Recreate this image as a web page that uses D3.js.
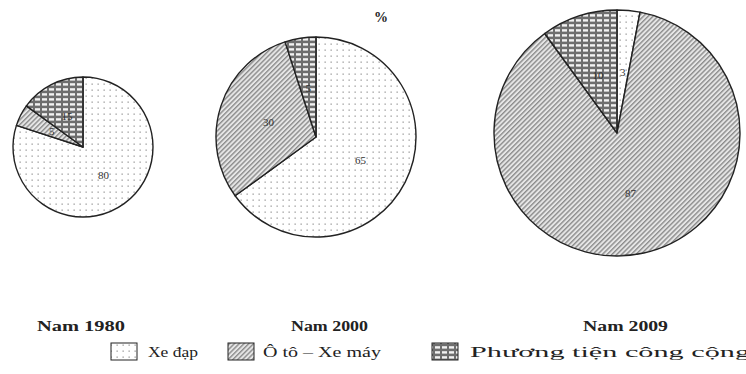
<!DOCTYPE html>
<html>
<head>
<meta charset="utf-8">
<script src="https://cdn.jsdelivr.net/npm/d3@7"></script>
<style>
  html, body { margin: 0; padding: 0; background: #fff; overflow: hidden; }
  svg { display: block; font-family: "Liberation Serif", "DejaVu Serif", serif; }
</style>
</head>
<body>
<svg id="chart" width="746" height="374"></svg>
<script>
// Cơ cấu phương tiện giao thông (%)
const categories = ["Xe đạp", "Ô tô – Xe máy", "Phương tiện công cộng"];
const years = ["Nam 1980", "Nam 2000", "Nam 2009"];
const values1980 = [80, 5, 15];
const values2000 = [65, 30, 5];
const values2009 = [3, 87, 10];
const unitLabel = "%";

const series = [values1980, values2000, values2009];
const layout = [
  { cx: 83,  cy: 147, r: 70 },
  { cx: 316, cy: 137, r: 100 },
  { cx: 617, cy: 133, r: 123 }
];
// year captions: left edge and stretched width
const yearLabelBox = [[37, 88], [291, 77], [583, 85]];

const svg = d3.select("#chart");
const defs = svg.append("defs");

// dotted fill
const pDots = defs.append("pattern").attr("id", "p0")
  .attr("patternUnits", "userSpaceOnUse").attr("width", 6).attr("height", 6);
pDots.append("rect").attr("width", 6).attr("height", 6).attr("fill", "#fff");
pDots.append("rect").attr("x", 2.5).attr("y", 2.5).attr("width", 1.3).attr("height", 1.3).attr("fill", "#9a9a9a");

// diagonal hatch ( / )
const pDiag = defs.append("pattern").attr("id", "p1")
  .attr("patternUnits", "userSpaceOnUse").attr("width", 3.4).attr("height", 3.4)
  .attr("patternTransform", "rotate(45)");
pDiag.append("rect").attr("width", 3.4).attr("height", 3.4).attr("fill", "#e6e6e6");
pDiag.append("rect").attr("x", 0).attr("width", 1.4).attr("height", 3.4).attr("fill", "#8c8c8c");

// horizontal brick/dash fill
const pBrick = defs.append("pattern").attr("id", "p2")
  .attr("patternUnits", "userSpaceOnUse").attr("width", 7).attr("height", 5);
pBrick.append("rect").attr("width", 7).attr("height", 5).attr("fill", "#6e6e6e");
pBrick.append("rect").attr("x", 1).attr("y", 1.2).attr("width", 5).attr("height", 2.4).attr("fill", "#f2f2f2");

const fills = ["url(#p0)", "url(#p1)", "url(#p2)"];

const pie = d3.pie().sort(null).startAngle(0).endAngle(2 * Math.PI);

series.forEach((vals, i) => {
  const L = layout[i];
  const g = svg.append("g").attr("transform", `translate(${L.cx},${L.cy})`);
  const arc = d3.arc().innerRadius(0).outerRadius(L.r);
  const labelArc = d3.arc().innerRadius(L.r * 0.5).outerRadius(L.r * 0.5);
  const arcs = pie(vals);
  g.selectAll("path").data(arcs).join("path")
    .attr("d", arc)
    .attr("fill", (d, k) => fills[k])
    .attr("stroke", "#222")
    .attr("stroke-width", 1.4)
    .attr("stroke-linejoin", "round");
  g.selectAll("text").data(arcs).join("text")
    .attr("transform", d => `translate(${labelArc.centroid(d)})`)
    .attr("text-anchor", "middle")
    .attr("dominant-baseline", "central")
    .attr("font-size", 11)
    .attr("fill", "#333")
    .text(d => d.data);

  svg.append("text")
    .attr("x", yearLabelBox[i][0]).attr("y", 331)
    .attr("textLength", yearLabelBox[i][1])
    .attr("lengthAdjust", "spacingAndGlyphs")
    .attr("font-size", 14).attr("font-weight", "bold")
    .attr("fill", "#222")
    .text(years[i]);
});

svg.append("text")
  .attr("x", 381).attr("y", 22)
  .attr("text-anchor", "middle")
  .attr("font-size", 14).attr("font-weight", "bold")
  .attr("fill", "#222")
  .text(unitLabel);

// legend: swatch x, text x, text width
const legendBox = [[111, 148, 50], [228, 263, 118], [432, 470, 280]];
const legend = svg.append("g");
categories.forEach((c, k) => {
  legend.append("rect")
    .attr("x", legendBox[k][0]).attr("y", 343)
    .attr("width", 26).attr("height", 17)
    .attr("fill", fills[k])
    .attr("stroke", "#222").attr("stroke-width", 1);
  legend.append("text")
    .attr("x", legendBox[k][1]).attr("y", 357)
    .attr("textLength", legendBox[k][2])
    .attr("lengthAdjust", "spacingAndGlyphs")
    .attr("font-size", 15)
    .attr("fill", "#222")
    .text(c);
});
</script>
</body>
</html>
